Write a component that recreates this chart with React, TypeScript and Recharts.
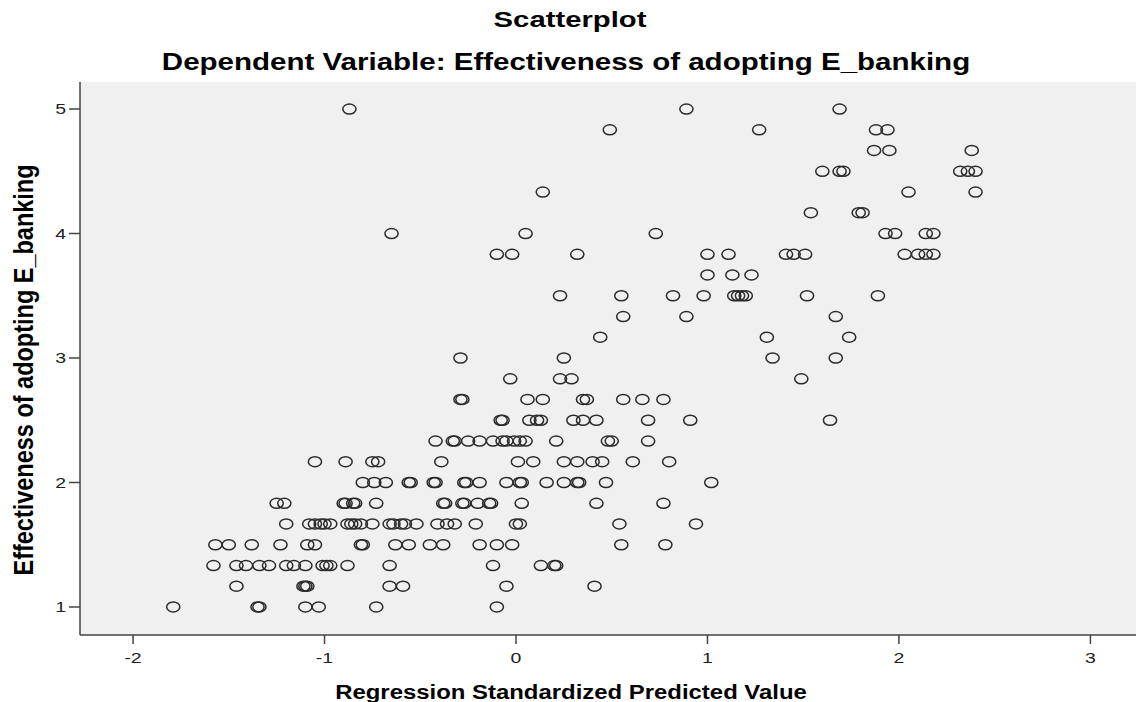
import { CartesianGrid, Scatter, ScatterChart, XAxis, YAxis } from "recharts";

// observed scale values (averages of 6 items -> steps of 1/6)
const observedLevels = [
  1, 1.167, 1.333, 1.5, 1.667, 1.833, 2, 2.167, 2.333, 2.5, 2.667, 2.833, 3,
  3.167, 3.333, 3.5, 3.667, 3.833, 4, 4.167, 4.333, 4.5, 4.667, 4.833, 5,
];

const predictedByLevel: number[][] = [
  [-1.79, -1.35, -1.34, -1.1, -1.03, -0.73, -0.1],
  [-1.46, -1.11, -1.1, -1.09, -0.66, -0.59, -0.05, 0.41],
  [-1.58, -1.46, -1.41, -1.34, -1.29, -1.2, -1.16, -1.1, -1.01, -0.99, -0.97, -0.88, -0.66, -0.12, 0.13, 0.2, 0.21],
  [-1.57, -1.5, -1.38, -1.23, -1.09, -1.05, -0.81, -0.8, -0.63, -0.56, -0.45, -0.38, -0.19, -0.1, -0.02, 0.55, 0.78],
  [-1.2, -1.08, -1.05, -1.02, -1.0, -0.97, -0.88, -0.86, -0.84, -0.81, -0.75, -0.66, -0.64, -0.6, -0.58, -0.52, -0.41, -0.36, -0.32, -0.21, 0.0, 0.02, 0.54, 0.94],
  [-1.25, -1.21, -0.9, -0.89, -0.85, -0.84, -0.73, -0.38, -0.37, -0.28, -0.27, -0.2, -0.14, -0.13, 0.03, 0.42, 0.77],
  [-0.8, -0.74, -0.68, -0.56, -0.55, -0.43, -0.42, -0.27, -0.26, -0.19, -0.05, 0.02, 0.03, 0.16, 0.25, 0.32, 0.33, 0.47, 1.02],
  [-1.05, -0.89, -0.75, -0.72, -0.39, 0.01, 0.09, 0.25, 0.32, 0.4, 0.45, 0.61, 0.8],
  [-0.42, -0.33, -0.32, -0.25, -0.19, -0.12, -0.07, -0.05, -0.01, 0.02, 0.05, 0.21, 0.48, 0.5, 0.69],
  [-0.08, -0.07, 0.07, 0.11, 0.13, 0.3, 0.35, 0.42, 0.69, 0.91, 1.64],
  [-0.29, -0.28, 0.06, 0.14, 0.35, 0.37, 0.56, 0.66, 0.77],
  [-0.03, 0.23, 0.29, 1.49],
  [-0.29, 0.25, 1.34, 1.67],
  [0.44, 1.31, 1.74],
  [0.56, 0.89, 1.67],
  [0.23, 0.55, 0.82, 0.98, 1.14, 1.16, 1.18, 1.2, 1.52, 1.89],
  [1.0, 1.13, 1.23],
  [-0.1, -0.02, 0.32, 1.0, 1.11, 1.41, 1.45, 1.51, 2.03, 2.1, 2.14, 2.18],
  [-0.65, 0.05, 0.73, 1.93, 1.98, 2.14, 2.18],
  [1.54, 1.79, 1.81],
  [0.14, 2.05, 2.4],
  [1.6, 1.69, 1.71, 2.32, 2.36, 2.4],
  [1.87, 1.95, 2.38],
  [0.49, 1.27, 1.88, 1.94],
  [-0.87, 0.89, 1.69],
];

const xTicks = [-2, -1, 0, 1, 2, 3];
const yTicks = [1, 2, 3, 4, 5];

const points = predictedByLevel.flatMap((row, i) =>
  row.map((x) => ({ x, y: observedLevels[i] }))
);

const FONT = '"Liberation Sans", Arial, sans-serif';
const STRETCH = 1.3; // the source picture is stretched sideways
const FRAME = "#444";

const Ring = (props: any) => (
  <ellipse
    cx={props.cx}
    cy={props.cy}
    rx={6.6}
    ry={5}
    fill="none"
    stroke="#2b2b2b"
    strokeWidth={1.5}
  />
);

const XTick = ({ x, y, payload }: any) => (
  <text
    transform={`translate(${x},${y}) scale(${STRETCH},1)`}
    textAnchor="middle"
    dy="0.75em"
    fontSize={15}
    fontFamily={FONT}
    fill="#222"
  >
    {payload.value}
  </text>
);

const YTick = ({ x, y, payload }: any) => (
  <text
    transform={`translate(${x},${y}) scale(${STRETCH},1)`}
    textAnchor="end"
    dy="0.36em"
    fontSize={15}
    fontFamily={FONT}
    fill="#222"
  >
    {payload.value}
  </text>
);

export default function App() {
  return (
    <div style={{ position: "absolute", left: 0, top: 0, width: 1136, height: 702, background: "#fff" }}>
      <ScatterChart width={1136} height={702} margin={{ top: 82, right: 0, bottom: 0, left: 0 }}>
        <CartesianGrid fill="#f0f0f0" fillOpacity={1} horizontal={false} vertical={false} />
        <XAxis
          xAxisId="top"
          orientation="top"
          type="number"
          dataKey="x"
          domain={[-2.277, 3.238]}
          allowDataOverflow
          height={0}
          tick={false}
          tickLine={false}
          axisLine={{ stroke: FRAME, strokeWidth: 1.5 }}
        />
        <XAxis
          type="number"
          dataKey="x"
          domain={[-2.277, 3.238]}
          ticks={xTicks}
          allowDataOverflow
          height={67}
          tickSize={9}
          tickMargin={8}
          tick={<XTick />}
          tickLine={{ stroke: FRAME, strokeWidth: 1.5 }}
          axisLine={{ stroke: FRAME, strokeWidth: 1.5 }}
        />
        <YAxis
          type="number"
          dataKey="y"
          domain={[0.775, 5.217]}
          ticks={yTicks}
          allowDataOverflow
          width={80}
          tickSize={11}
          tickMargin={3}
          tick={<YTick />}
          tickLine={{ stroke: FRAME, strokeWidth: 1.5 }}
          axisLine={{ stroke: FRAME, strokeWidth: 1.5 }}
        />
        <Scatter data={points} shape={Ring} isAnimationActive={false} />
      </ScatterChart>

      <svg
        width={1136}
        height={702}
        style={{ position: "absolute", left: 0, top: 0, pointerEvents: "none" }}
        fontFamily={FONT}
        fontWeight="bold"
        fill="#000"
      >
        <text transform="translate(570,27) scale(1.33,1)" textAnchor="middle" fontSize={22}>
          Scatterplot
        </text>
        <text transform="translate(566,70) scale(1.23,1)" textAnchor="middle" fontSize={24}>
          Dependent Variable: Effectiveness of adopting E_banking
        </text>
        <text transform="translate(571,699) scale(1.22,1)" textAnchor="middle" fontSize={19.6}>
          Regression Standardized Predicted Value
        </text>
        <text transform="translate(33,370) rotate(-90) scale(1,1.19)" textAnchor="middle" fontSize={23.5}>
          Effectiveness of adopting E_banking
        </text>
      </svg>
    </div>
  );
}
